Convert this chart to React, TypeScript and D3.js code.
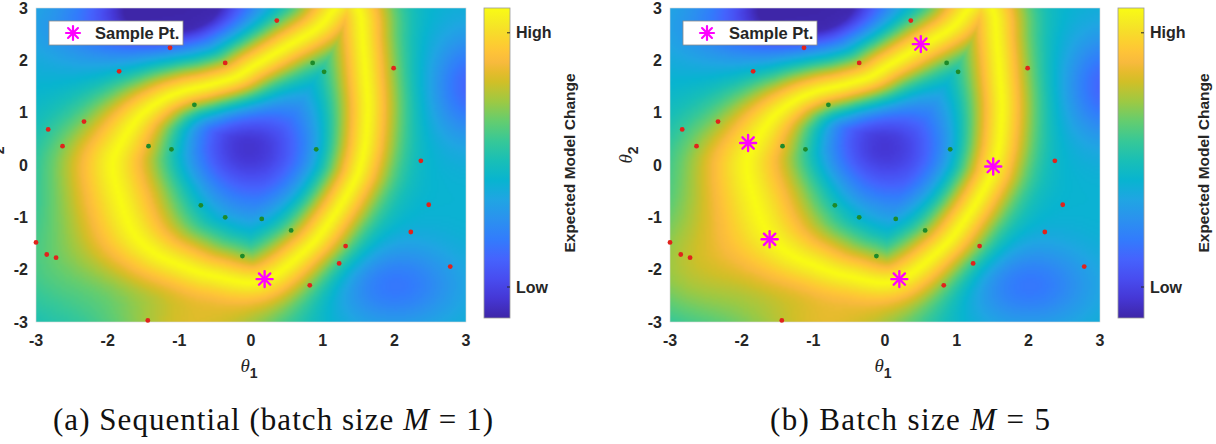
import React, { useMemo } from 'react';
import * as d3 from 'd3';

// ---------- data ----------
const axisTicks = [-3, -2, -1, 0, 1, 2, 3];

// centre line of the high "Expected Model Change" ridge (closed loop, corner just above the top edge)
const ridgeTheta1 = [-1.93, -1.8, -1.57, -1.27, -0.95, -0.58, -0.22, 0.05, 0.47, 0.93, 1.18, 1.36, 1.52, 1.56, 1.6, 1.63, 1.6, 1.53, 1.44, 1.16, 0.79, 0.15, -0.53, -1.0, -1.37, -1.65, -1.83];
const ridgeTheta2 = [0.0, 0.45, 0.9, 1.22, 1.41, 1.53, 1.68, 1.9, 2.24, 2.62, 3.0, 3.2, 2.9, 2.36, 1.73, 1.09, 0.45, 0.0, -0.32, -0.96, -1.59, -2.22, -2.12, -1.91, -1.66, -1.27, -0.64];
const ridgeWidthA = [0.7, 0.62, 0.52, 0.46, 0.43, 0.42, 0.42, 0.42, 0.42, 0.43, 0.43, 0.43, 0.41, 0.4, 0.4, 0.4, 0.4, 0.4, 0.4, 0.41, 0.43, 0.49, 0.55, 0.6, 0.65, 0.7, 0.72];
const ridgeWidthB = [0.76, 0.66, 0.54, 0.46, 0.43, 0.42, 0.42, 0.42, 0.42, 0.43, 0.43, 0.43, 0.41, 0.4, 0.4, 0.4, 0.4, 0.4, 0.4, 0.41, 0.43, 0.49, 0.58, 0.66, 0.74, 0.8, 0.8];
const ridgeLinear = 0.35;
const ridgeQuadratic = 0.45;

// background lows / highs of the field
const baseLevel = 0.44;
const blobTheta1 = [-0.1, -1.0, -1.8, 3.1, 2.0, -2.7, -0.8];
const blobTheta2 = [0.3, 3.1, 2.6, 1.5, -2.3, -2.0, -3.1];
const blobSpread1 = [1.08, 1.0, 1.2, 0.6, 0.9, 1.1, 1.2];
const blobSpread2 = [1.18, 0.75, 0.8, 1.0, 0.8, 1.2, 0.7];
const blobLevelA = [-0.4, -0.55, -0.18, -0.25, -0.2, 0.14, 0.3];
const blobLevelB = [-0.4, -0.55, -0.18, -0.25, -0.2, 0.24, 0.3];

const redTheta1 = [0.36, -1.13, -0.36, -1.84, 1.99, -2.33, -2.83, -2.63, 2.37, 2.48, 2.23, 1.32, -3.0, -2.85, -2.72, 1.23, 2.78, 0.82, -1.44];
const redTheta2 = [2.76, 2.24, 1.95, 1.79, 1.85, 0.83, 0.68, 0.36, 0.08, -0.76, -1.28, -1.55, -1.48, -1.71, -1.77, -1.88, -1.94, -2.3, -2.97];
const greenTheta1 = [0.86, 1.02, -0.79, -1.43, -1.11, 0.91, -0.7, -0.36, 0.15, 0.56, -0.12];
const greenTheta2 = [1.95, 1.78, 1.15, 0.36, 0.3, 0.3, -0.77, -1.0, -1.03, -1.25, -1.74];
const sampleTheta1A = [0.19];
const sampleTheta2A = [-2.18];
const sampleTheta1B = [0.5, -1.91, 1.51, -1.61, 0.2];
const sampleTheta2B = [2.31, 0.42, -0.03, -1.42, -2.18];

const colorbarTickValues = [0.1, 0.92];
const colorbarTickLabels = ['Low', 'High'];

// parula colour map (MATLAB default), stops at the given positions
const parulaPos = [0, 0.0635, 0.127, 0.19, 0.254, 0.317, 0.381, 0.444, 0.508, 0.571, 0.635, 0.698, 0.762, 0.794, 0.825, 0.857, 0.889, 0.921, 0.952, 1];
const parulaStops = ['#3e26a8', '#4537d5', '#484df0', '#4563fd', '#327cfc', '#2b91ef', '#20a5e3', '#08b4d0', '#19bfb6', '#37c897', '#64cd6f', '#9dc943', '#d1bf27', '#e6bb2d', '#f8ba3d', '#fec338', '#fccf30', '#f7dc2a', '#f5e924', '#f9fb14'];

// ---------- layout ----------
const PW = 430;
const PH = 314;
const TOP = 8;
const FONT = 'Liberation Sans, Arial, Helvetica, sans-serif';
const TXT = '#262626';

const parula = d3.scaleLinear<string>()
  .domain(parulaPos)
  .range(parulaStops)
  .interpolate(d3.interpolateRgb)
  .clamp(true);

function densify(xs: number[], ys: number[], ws: number[], n: number) {
  const N = xs.length;
  const out: number[][] = [];
  const cr = (p0: number, p1: number, p2: number, p3: number, t: number) => {
    const t2 = t * t, t3 = t2 * t;
    return 0.5 * (2 * p1 + (-p0 + p2) * t + (2 * p0 - 5 * p1 + 4 * p2 - p3) * t2 + (-p0 + 3 * p1 - 3 * p2 + p3) * t3);
  };
  for (let i = 0; i < N; i++) {
    const i0 = (i - 1 + N) % N, i2 = (i + 1) % N, i3 = (i + 2) % N;
    for (let s = 0; s < n; s++) {
      const t = s / n;
      out.push([
        cr(xs[i0], xs[i], xs[i2], xs[i3], t),
        cr(ys[i0], ys[i], ys[i2], ys[i3], t),
        ws[i] + (ws[i2] - ws[i]) * t,
      ]);
    }
  }
  return out;
}

function makeHeatmap(widths: number[], levels: number[]) {
  const cell = 2;
  const nx = Math.round(PW / cell), ny = Math.round(PH / cell);
  const canvas = document.createElement('canvas');
  canvas.width = nx;
  canvas.height = ny;
  const ctx = canvas.getContext('2d');
  if (!ctx) return '';
  const img = ctx.createImageData(nx, ny);
  const xs = d3.scaleLinear().domain([-3, 3]).range([0, PW]);
  const ys = d3.scaleLinear().domain([-3, 3]).range([PH, 0]);
  const pts = densify(ridgeTheta1, ridgeTheta2, widths, 24);
  const lut: number[][] = d3.range(256).map((k) => {
    const c = d3.rgb(parula(k / 255));
    return [c.r, c.g, c.b];
  });
  for (let j = 0; j < ny; j++) {
    const t2 = ys.invert((j + 0.5) * cell);
    for (let i = 0; i < nx; i++) {
      const t1 = xs.invert((i + 0.5) * cell);
      let bg = baseLevel;
      for (let k = 0; k < blobTheta1.length; k++) {
        const a = (t1 - blobTheta1[k]) / blobSpread1[k];
        const b = (t2 - blobTheta2[k]) / blobSpread2[k];
        bg += levels[k] * Math.exp(-(a * a + b * b));
      }
      bg = Math.max(0, Math.min(1, bg));
      let best = Infinity;
      for (let p = 0; p < pts.length; p++) {
        const dx = t1 - pts[p][0], dy = t2 - pts[p][1];
        const q = (dx * dx + dy * dy) / (pts[p][2] * pts[p][2]);
        if (q < best) best = q;
      }
      const u = Math.sqrt(best);
      const v = bg + (1 - bg) * Math.exp(-(ridgeLinear * u + ridgeQuadratic * u * u));
      const c = lut[Math.max(0, Math.min(255, Math.round(v * 255)))];
      const o = (j * nx + i) * 4;
      img.data[o] = c[0];
      img.data[o + 1] = c[1];
      img.data[o + 2] = c[2];
      img.data[o + 3] = 255;
    }
  }
  ctx.putImageData(img, 0, 0);
  return canvas.toDataURL();
}

function Asterisk({ x, y, r, sw }: { x: number; y: number; r: number; sw: number }) {
  const d = r * Math.SQRT1_2;
  return (
    <g stroke="#ff00ff" strokeWidth={sw} strokeLinecap="round">
      <line x1={x - r} y1={y} x2={x + r} y2={y} />
      <line x1={x} y1={y - r} x2={x} y2={y + r} />
      <line x1={x - d} y1={y - d} x2={x + d} y2={y + d} />
      <line x1={x - d} y1={y + d} x2={x + d} y2={y - d} />
    </g>
  );
}

function Panel(props: {
  x0: number; id: string; widths: number[]; levels: number[];
  s1: number[]; s2: number[]; capLeft: string; capRight: string; capX: number; capW: number;
}) {
  const { x0, id, widths, levels, s1, s2 } = props;
  const url = useMemo(() => makeHeatmap(widths, levels), [widths, levels]);
  const xs = d3.scaleLinear().domain([-3, 3]).range([x0, x0 + PW]);
  const ys = d3.scaleLinear().domain([-3, 3]).range([TOP + PH, TOP]);
  const cbX = x0 + PW + 18;
  const cbW = 26;
  const cbTop = 8, cbBot = 318;
  const cs = d3.scaleLinear().domain([0, 1]).range([cbBot, cbTop]);
  const gid = 'cb-' + id;
  return (
    <g>
      <defs>
        <linearGradient id={gid} x1="0" y1="1" x2="0" y2="0">
          {parulaStops.map((c, i) => (
            <stop key={i} offset={parulaPos[i]} stopColor={c} />
          ))}
        </linearGradient>
      </defs>
      <image href={url} x={x0} y={TOP} width={PW} height={PH} preserveAspectRatio="none" />
      <rect x={x0} y={TOP} width={PW} height={PH} fill="none" stroke="#d8d8d8" strokeWidth={0.6} />
      {redTheta1.map((t, i) => (
        <circle key={'r' + i} cx={xs(t)} cy={ys(redTheta2[i])} r={2.4} fill="#e0231c" />
      ))}
      {greenTheta1.map((t, i) => (
        <circle key={'g' + i} cx={xs(t)} cy={ys(greenTheta2[i])} r={2.4} fill="#1d8a2a" />
      ))}
      {s1.map((t, i) => (
        <Asterisk key={'s' + i} x={xs(t)} y={ys(s2[i])} r={8} sw={2.4} />
      ))}
      {/* legend */}
      <rect x={x0 + 13} y={21} width={134} height={24} fill="#ffffff" stroke="#8c8c8c" strokeWidth={0.8} />
      <Asterisk x={x0 + 37} y={33} r={7} sw={2.2} />
      <text x={x0 + 59} y={39} fontFamily={FONT} fontWeight="bold" fontSize={16.5} fill={TXT}>Sample Pt.</text>
      {/* axes tick labels */}
      {axisTicks.map((t) => (
        <text key={'yt' + t} x={x0 - 8} y={ys(t)} textAnchor="end" dominantBaseline="central" fontFamily={FONT} fontWeight="bold" fontSize={16} fill={TXT}>{String(t)}</text>
      ))}
      {axisTicks.map((t) => (
        <text key={'xt' + t} x={xs(t)} y={340} textAnchor="middle" dominantBaseline="central" fontFamily={FONT} fontWeight="bold" fontSize={16} fill={TXT}>{String(t)}</text>
      ))}
      {/* axis labels */}
      <text x={x0 + 213} y={372} textAnchor="middle" fill={TXT}>
        <tspan fontFamily="Liberation Serif, serif" fontStyle="italic" fontSize={19}>θ</tspan>
        <tspan fontFamily={FONT} fontWeight="bold" fontSize={14} dy={6}>1</tspan>
      </text>
      <text transform={`translate(${x0 - 38},${155}) rotate(-90)`} textAnchor="middle" fill={TXT}>
        <tspan fontFamily="Liberation Serif, serif" fontStyle="italic" fontSize={19}>θ</tspan>
        <tspan fontFamily={FONT} fontWeight="bold" fontSize={14} dy={6}>2</tspan>
      </text>
      {/* colorbar */}
      <rect x={cbX} y={cbTop} width={cbW} height={cbBot - cbTop} fill={`url(#${gid})`} stroke="#9a9a9a" strokeWidth={0.8} />
      {colorbarTickValues.map((v, i) => (
        <g key={'cb' + i}>
          <line x1={cbX + cbW - 3} x2={cbX + cbW} y1={cs(v)} y2={cs(v)} stroke={TXT} strokeWidth={1} />
          <text x={cbX + cbW + 6} y={cs(v)} dominantBaseline="central" fontFamily={FONT} fontWeight="bold" fontSize={16} fill={TXT}>{colorbarTickLabels[i]}</text>
        </g>
      ))}
      <text transform={`translate(${x0 + 533},${163}) rotate(-90)`} textAnchor="middle" dominantBaseline="central" fontFamily={FONT} fontWeight="bold" fontSize={15.5} fill={TXT}>Expected Model Change</text>
      {/* caption */}
      <text x={props.capX} y={430} fontFamily="Liberation Serif, serif" fontSize={31} fill="#111" textLength={props.capW} lengthAdjust="spacing">
        {props.capLeft}
        <tspan fontStyle="italic">M</tspan>
        {props.capRight}
      </text>
    </g>
  );
}

export default function App() {
  return (
    <svg width={1216} height={444} style={{ position: 'absolute', left: 0, top: 0, background: '#fff' }}>
      <rect x={0} y={0} width={1216} height={444} fill="#ffffff" />
      <Panel x0={36} id="a" widths={ridgeWidthA} levels={blobLevelA} s1={sampleTheta1A} s2={sampleTheta2A}
        capLeft="(a) Sequential (batch size " capRight=" = 1)" capX={53} capW={440} />
      <Panel x0={670} id="b" widths={ridgeWidthB} levels={blobLevelB} s1={sampleTheta1B} s2={sampleTheta2B}
        capLeft="(b) Batch size " capRight=" = 5" capX={770} capW={280} />
    </svg>
  );
}
